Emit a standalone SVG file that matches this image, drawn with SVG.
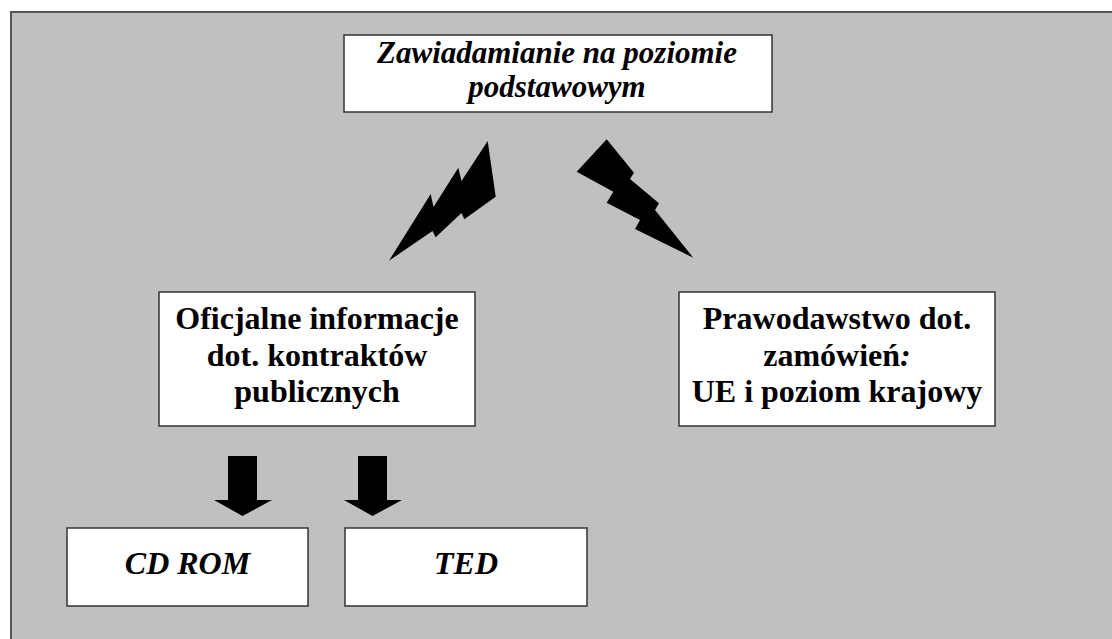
<svg xmlns="http://www.w3.org/2000/svg" width="1112" height="639" viewBox="0 0 1112 639">
  <style>
    .panel { fill: #c0c0c0; stroke: #555555; stroke-width: 2; }
    .box { fill: #ffffff; stroke: #333333; stroke-width: 1.5; }
    .t { font-family: "Liberation Serif", "Times New Roman", "DejaVu Serif", serif; font-size: 32px; font-weight: bold; fill: #000000; text-anchor: middle; }
    .it { font-style: italic; }
    .head { font-size: 31px; }
    .solid { fill: #000000; }
  </style>

  <rect x="0" y="0" width="1112" height="639" fill="#ffffff"/>
  <rect class="panel" x="11" y="12" width="1110" height="640"/>

  <!-- connectors: lightning bolts and down arrows -->
  <g id="connectors">
    <polygon class="solid" points="389,260.7 430.7,194 433.5,207 458.3,167.7 461.5,181 487.7,141 495.7,196.7 464.3,219.3 461.5,213 435.7,237.3 432.5,231"/>
    <polygon class="solid" points="606.7,139.3 634,172.7 630,179 659,203.3 655,210 693.3,257.7 635,229 640,220 606.7,202.7 613.3,191.7 576.7,171.7"/>
    <polygon class="solid" points="228,456 257,456 257,500 272,500 242.5,516 214,500 228,500"/>
    <polygon class="solid" points="358,456 387,456 387,500 402,500 372.5,516 344,500 358,500"/>
  </g>

  <g id="node-top">
    <rect class="box" x="344" y="35" width="428" height="77"/>
    <text class="t it head" x="557" y="63">Zawiadamianie na poziomie</text>
    <text class="t it head" x="557" y="97">podstawowym</text>
  </g>

  <g id="node-official">
    <rect class="box" x="159" y="292" width="316" height="134"/>
    <text class="t" x="317" y="329">Oficjalne informacje</text>
    <text class="t" x="317" y="366">dot. kontraktów</text>
    <text class="t" x="317" y="402">publicznych</text>
  </g>

  <g id="node-law">
    <rect class="box" x="679" y="292" width="316" height="134"/>
    <text class="t" x="837" y="329">Prawodawstwo dot.</text>
    <text class="t" x="837" y="366">zamówień<tspan class="it">:</tspan></text>
    <text class="t" x="837" y="402">UE i poziom krajowy</text>
  </g>

  <g id="node-cdrom">
    <rect class="box" x="67" y="528" width="241" height="78"/>
    <text class="t it" x="187.5" y="574">CD ROM</text>
  </g>

  <g id="node-ted">
    <rect class="box" x="345" y="528" width="242" height="78"/>
    <text class="t it" x="466" y="574">TED</text>
  </g>
</svg>
